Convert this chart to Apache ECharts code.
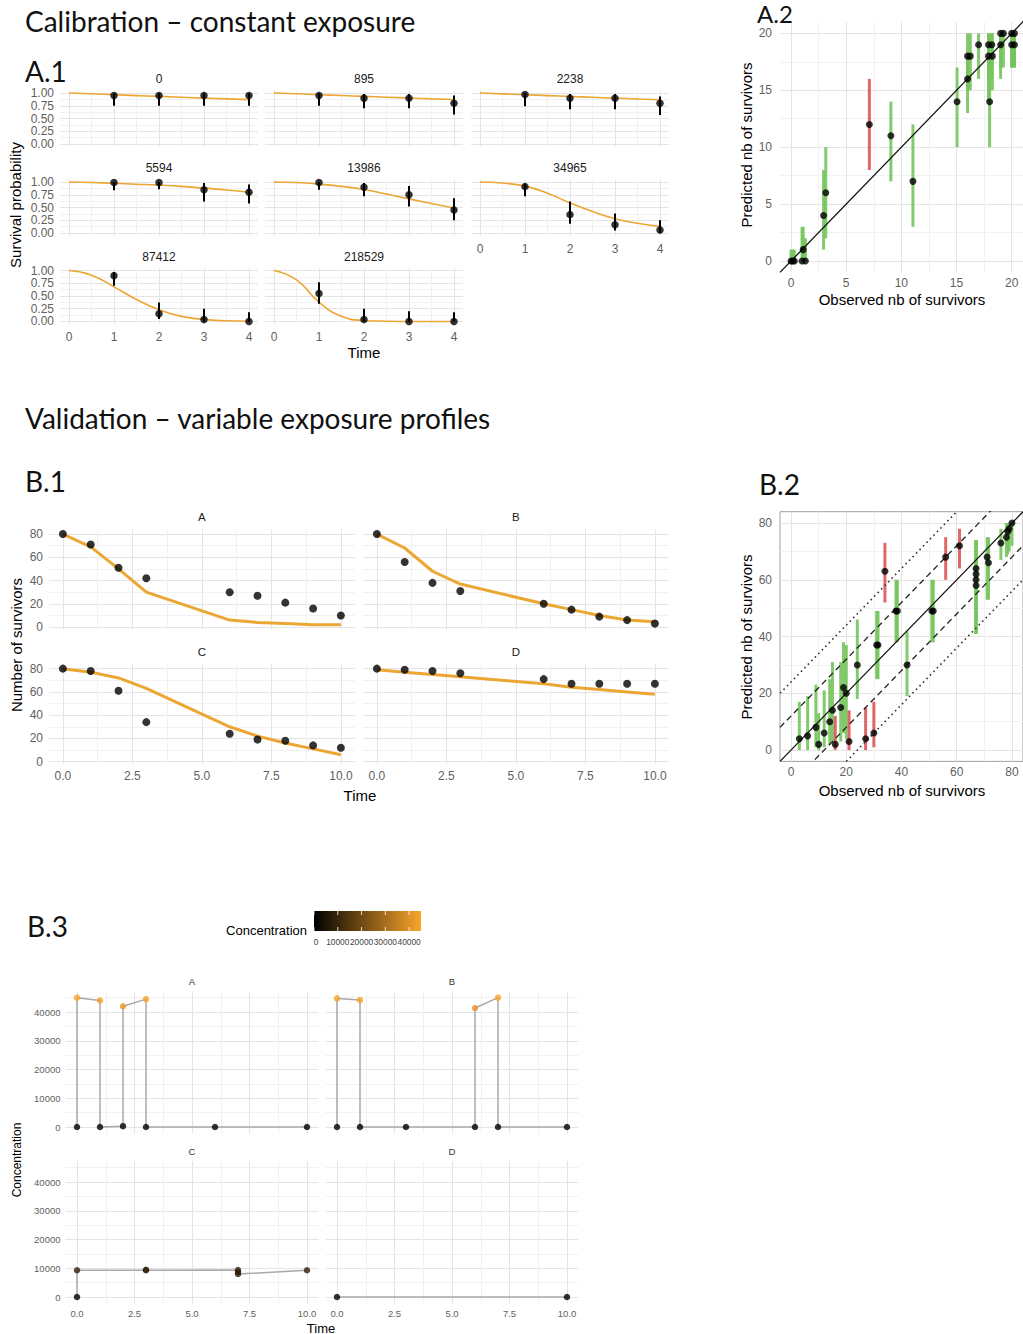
<!DOCTYPE html>
<html><head><meta charset="utf-8">
<script src="https://cdn.jsdelivr.net/npm/echarts@6.0.0/dist/echarts.min.js"></script>
<style>html,body{margin:0;padding:0;background:#fff}#c{width:1023px;height:1334px}</style>
</head><body><div id="c"></div>
<script>
// ================= DATA =================
// ---- A.1 : calibration, survival probability per concentration ----
const a1Concentrations = ['0', '895', '2238', '5594', '13986', '34965', '87412', '218529'];
const a1ObsTimes = [1, 2, 3, 4];
const a1ObsSurvival = [
  [0.95, 0.95, 0.95, 0.95],
  [0.95, 0.90, 0.90, 0.80],
  [0.97, 0.90, 0.90, 0.80],
  [0.99, 0.99, 0.85, 0.80],
  [0.99, 0.90, 0.75, 0.45],
  [0.91, 0.36, 0.16, 0.06],
  [0.90, 0.15, 0.04, 0.00],
  [0.55, 0.04, 0.00, 0.00]
];
const a1ObsLower = [
  [0.75, 0.75, 0.75, 0.75],
  [0.75, 0.70, 0.70, 0.58],
  [0.74, 0.68, 0.68, 0.57],
  [0.84, 0.86, 0.62, 0.58],
  [0.85, 0.72, 0.52, 0.25],
  [0.72, 0.18, 0.05, 0.00],
  [0.70, 0.05, 0.00, 0.00],
  [0.35, 0.00, 0.00, 0.00]
];
const a1ObsUpper = [
  [0.99, 0.99, 0.99, 0.99],
  [0.99, 0.98, 0.98, 0.95],
  [1.00, 0.98, 0.98, 0.93],
  [1.00, 1.00, 0.98, 0.95],
  [1.00, 0.98, 0.92, 0.68],
  [0.97, 0.62, 0.38, 0.25],
  [0.97, 0.37, 0.25, 0.18],
  [0.77, 0.25, 0.20, 0.18]
];
const a1CurveTimes = [0, 0.5, 1, 1.5, 2, 2.5, 3, 3.5, 4];
const a1CurveSurvival = [
  [1.00, 0.985, 0.967, 0.950, 0.934, 0.918, 0.900, 0.885, 0.870],
  [1.00, 0.985, 0.968, 0.951, 0.935, 0.918, 0.902, 0.886, 0.872],
  [1.00, 0.984, 0.967, 0.950, 0.933, 0.916, 0.900, 0.884, 0.868],
  [1.00, 0.990, 0.975, 0.958, 0.940, 0.915, 0.880, 0.845, 0.800],
  [1.00, 0.990, 0.960, 0.915, 0.855, 0.765, 0.670, 0.580, 0.490],
  [1.00, 0.980, 0.920, 0.780, 0.590, 0.420, 0.280, 0.190, 0.125],
  [1.00, 0.910, 0.680, 0.430, 0.230, 0.100, 0.040, 0.015, 0.005],
  [1.00, 0.815, 0.380, 0.100, 0.020, 0.005, 0.000, 0.000, 0.000]
];
const a1TicksX = [0, 1, 2, 3, 4];
const a1TicksY = [0, 0.25, 0.5, 0.75, 1];

// ---- A.2 : observed vs predicted survivors (calibration) ----
const a2Observed  = [0, 0.15, 0.3, 1, 1.3, 1.1, 2.95, 3.15, 7.1, 9.05, 11.05, 15.05, 16, 16, 16.25, 17, 18, 17.9, 17.9, 18.25, 18.2, 19, 19, 19.25, 20, 20, 20.25, 20.25];
const a2Predicted = [0, 0, 0, 0, 0, 1, 4, 6, 12, 11, 7, 14, 16, 18, 18, 19, 14, 18, 19, 18, 19, 19, 20, 20, 19, 20, 20, 19];
const a2Lower     = [0, 0, 0, 0, 0, 0, 1, 2, 8, 7, 3, 10, 13, 15, 15, 16, 10, 14, 16, 15, 16, 16, 17, 17, 17, 17, 17, 17];
const a2Upper     = [1, 1, 1, 3, 2, 3, 8, 10, 16, 14, 12, 17, 18, 20, 20, 20, 20, 20, 20, 20, 20, 20, 20, 20, 20, 20, 20, 20];
const a2Outside   = [0, 0, 0, 0, 0, 0, 0, 0, 1, 0, 0, 0, 0, 0, 0, 0, 0, 0, 0, 0, 0, 0, 0, 0, 0, 0, 0, 0];
const a2Ticks = [0, 5, 10, 15, 20];

// ---- B.1 : number of survivors, variable exposure profiles ----
const b1Profiles = ['A', 'B', 'C', 'D'];
const b1Times = [0, 1, 2, 3, 6, 7, 8, 9, 10];
const b1ObsSurvivors = [
  [80, 71, 51, 42, 30, 27, 21, 16, 10],
  [80, 56, 38, 31, 20, 15, 9, 6, 3],
  [80, 78, 61, 34, 24, 19, 18, 14, 12],
  [80, 79, 78, 76, 71, 67, 67, 67, 67]
];
const b1PredSurvivors = [
  [80, 69, 50, 30, 6, 4, 3, 2, 2],
  [80, 68, 48, 37, 20, 15, 10, 6, 4.5],
  [80, 77, 72, 63, 30, 22, 16, 11, 6],
  [79, 77, 75, 73, 67, 64, 62, 60, 58]
];
const b1TicksX = [0, 2.5, 5, 7.5, 10];
const b1TicksY = [0, 20, 40, 60, 80];

// ---- B.2 : observed vs predicted survivors (validation) ----
const b2Observed  = [3, 6, 9, 10, 12, 14, 15, 16, 18, 19, 20, 21, 24, 27, 30, 31, 31.5, 34, 38, 38.5, 42, 51, 51.5, 56, 61, 67, 67, 67, 67, 71, 71.5, 76, 78, 78.5, 79, 80];
const b2Predicted = [4, 5, 8, 2, 6, 10, 14, 2, 15, 22, 20, 3, 30, 4, 6, 37, 37, 63, 49, 49, 30, 49, 49, 68, 72, 64, 62, 60, 58, 68, 66, 73, 75, 77, 78, 80];
const b2Lower     = [0, 0, 1, 0, 1, 2, 3, 0, 3, 6, 4, 0, 18, 0, 1, 25, 25, 52, 38, 38, 19, 38, 38, 60, 64, 41, 41, 41, 41, 53, 53, 67, 68, 69, 70, 72];
const b2Upper     = [17, 19, 23, 13, 21, 25, 31, 12, 31, 38, 37, 14, 46, 15, 17, 49, 49, 73, 60, 60, 42, 60, 60, 75, 78, 74, 74, 74, 74, 75, 75, 78, 80, 80, 80, 80];
const b2Outside   = [0, 0, 0, 0, 0, 0, 0, 1, 0, 0, 0, 1, 0, 1, 1, 0, 0, 1, 0, 0, 0, 0, 0, 1, 1, 0, 0, 0, 0, 0, 0, 0, 0, 0, 0, 0];
const b2LineOffsets = [0, 12, -12, 24, -24];
const b2Ticks = [0, 20, 40, 60, 80];

// ---- B.3 : exposure profiles (concentration over time) ----
const b3Times = [
  [0, 0, 1, 1, 2, 2, 3, 3, 6, 10],
  [0, 0, 1, 1, 3, 6, 6, 7, 7, 10],
  [0, 0, 3, 3, 7, 7, 7, 10],
  [0, 10]
];
const b3Concentration = [
  [0, 45000, 44000, 0, 300, 42000, 44500, 0, 0, 0],
  [0, 44750, 44200, 0, 0, 0, 41400, 45000, 0, 0],
  [0, 9300, 9300, 9500, 9400, 8700, 8000, 9300],
  [0, 0]
];
const b3TicksX = [0, 2.5, 5, 7.5, 10];
const b3TicksY = [0, 10000, 20000, 30000, 40000];
const b3LegendTicks = [0, 10000, 20000, 30000, 40000];
const b3ColorRange = [0, 45000];

// ================= BUILD =================
const FONT = '"Liberation Sans", Arial, sans-serif';
const TFONT = 'Lato, "Open Sans", sans-serif';
const MAJ = '#e4e4e4', MIN = '#f1f1f1';
const ORANGE = '#eca634', GREEN = '#74c45c', RED = '#dd5656';
const grid = [], xAxis = [], yAxis = [], series = [], graphic = [];

function mids(t) { const s = t[1] - t[0], o = []; for (let k = -1; k < t.length; k++) o.push(+(t[0] + s * (k + 0.5)).toFixed(6)); return o; }
function inside(v, r) { return v.filter(x => x > r[0] + 1e-9 && x < r[1] - 1e-9); }

function panel(p) {
  const gi = grid.length;
  grid.push({ left: p.l, top: p.t, width: p.w, height: p.h, show: !!p.border, borderColor: '#a0a0a0', borderWidth: 1, backgroundColor: 'rgba(0,0,0,0)' });
  const fs = p.fs || 12;
  const major = (ticks, range, show, fmt, margin, pos) => ({
    type: 'value', gridIndex: gi, min: range[0], max: range[1], position: pos,
    axisLine: { show: false }, axisTick: { show: false, customValues: ticks },
    axisLabel: { show: !!show, customValues: ticks, formatter: fmt, color: '#5f5f5f', fontSize: fs, fontFamily: FONT, margin: margin, showMinLabel: true, showMaxLabel: true },
    splitLine: { show: true, lineStyle: { color: MAJ, width: 1 } }
  });
  const minor = (ticks, range, pos) => ({
    type: 'value', gridIndex: gi, min: range[0], max: range[1], position: pos,
    axisLine: { show: false }, axisTick: { show: false, customValues: inside(mids(ticks), range) },
    axisLabel: { show: false }, splitLine: { show: true, lineStyle: { color: MIN, width: 1 } }
  });
  const xi = xAxis.length;
  xAxis.push(major(p.xt, p.xr, p.xl, p.xf, p.xm, 'bottom'));
  xAxis.push(minor(p.xt, p.xr, 'top'));
  const yi = yAxis.length;
  yAxis.push(major(p.yt, p.yr, p.yl, p.yf, p.ym, 'left'));
  yAxis.push(minor(p.yt, p.yr, 'right'));
  return { xAxisIndex: xi, yAxisIndex: yi };
}

function txt(x, y, s, o) {
  o = o || {};
  graphic.push({ type: 'text', x: x, y: y, rotation: o.rot || 0, silent: true, z: 10,
    style: { text: s, fill: o.color || '#000', font: (o.size || 15) + 'px ' + (o.family || FONT),
      align: o.align || 'center', verticalAlign: 'middle', textAlign: o.align || 'center', textVerticalAlign: 'middle' } });
}

function rangeBars(ax, data, width, opacity) {
  series.push(Object.assign({ type: 'custom', clip: false, z: 2, data: data,
    renderItem: function (params, api) {
      const a = api.coord([api.value(0), api.value(1)]);
      const b = api.coord([api.value(0), api.value(2)]);
      return { type: 'line', shape: { x1: a[0], y1: a[1], x2: b[0], y2: b[1] },
        style: { stroke: api.visual('color'), lineWidth: width, opacity: opacity, lineCap: 'butt' } };
    }, itemStyle: { color: '#000' } }, ax));
}

const f2 = v => v.toFixed(2), f1 = v => v.toFixed(1), f0 = v => String(v);

// ---- A.1 ----
const a1Left = [60, 265, 471], a1Top = [90.5, 179.5, 268];
a1Concentrations.forEach((name, i) => {
  const r = Math.floor(i / 3), c = i % 3;
  const showX = r === 2 || (r === 1 && c === 2);
  const ax = panel({ l: a1Left[c], t: a1Top[r], w: 198, h: 56, xr: [-0.2, 4.2], yr: [-0.05, 1.05],
    xt: a1TicksX, yt: a1TicksY, xl: showX, yl: c === 0, xf: f0, yf: f2, xm: 7, ym: 6, fs: 12 });
  series.push(Object.assign({ type: 'line', smooth: 0.5, showSymbol: false, clip: false, z: 1,
    data: a1CurveTimes.map((t, k) => [t, a1CurveSurvival[i][k]]),
    lineStyle: { color: ORANGE, width: 1.6 } }, ax));
  rangeBars(ax, a1ObsTimes.map((t, k) => [t, a1ObsLower[i][k], a1ObsUpper[i][k]]), 2, 1);
  series.push(Object.assign({ type: 'scatter', symbolSize: 7.5, z: 3, itemStyle: { color: '#000' },
    data: a1ObsTimes.map((t, k) => [t, a1ObsSurvival[i][k]]) }, ax));
  txt(a1Left[c] + 99, a1Top[r] - 11.5, name, { size: 12, color: '#1a1a1a' });
});
txt(364, 352, 'Time', { size: 15 });
txt(15, 205, 'Survival probability', { size: 15, rot: Math.PI / 2 });

// ---- A.2 ----
const a2Range = [-1, 21];
{
  const ax = panel({ l: 780, t: 22, w: 242.7, h: 250.4, xr: a2Range, yr: a2Range, xt: a2Ticks, yt: a2Ticks,
    xl: true, yl: true, xf: f0, yf: f0, xm: 5, ym: 8, fs: 12 });
  rangeBars(ax, a2Observed.map((x, k) => ({ value: [x, a2Lower[k], a2Upper[k]], itemStyle: { color: a2Outside[k] ? RED : GREEN } })), 3, 0.9);
  series.push(Object.assign({ type: 'line', showSymbol: false, clip: false, z: 3,
    data: [[a2Range[0], a2Range[0]], [a2Range[1] + 0.6, a2Range[1] + 0.6]], lineStyle: { color: '#111', width: 1.3 } }, ax));
  series.push(Object.assign({ type: 'scatter', symbolSize: 7, z: 4, itemStyle: { color: '#000' },
    data: a2Observed.map((x, k) => [x, a2Predicted[k]]) }, ax));
  txt(902, 299, 'Observed nb of survivors', { size: 15 });
  txt(746, 145, 'Predicted nb of survivors', { size: 15, rot: Math.PI / 2 });
}

// ---- B.1 ----
const b1Left = [49, 363], b1Top = [529.4, 664];
b1Profiles.forEach((name, i) => {
  const r = Math.floor(i / 2), c = i % 2;
  const ax = panel({ l: b1Left[c], t: b1Top[r], w: 305.8, h: 100, xr: [-0.5, 10.5], yr: [-2, 84],
    xt: b1TicksX, yt: b1TicksY, xl: r === 1, yl: c === 0, xf: f1, yf: f0, xm: 6, ym: 6, fs: 12 });
  series.push(Object.assign({ type: 'line', showSymbol: false, clip: false, z: 1,
    data: b1Times.map((t, k) => [t, b1PredSurvivors[i][k]]), lineStyle: { color: ORANGE, width: 3 } }, ax));
  series.push(Object.assign({ type: 'scatter', symbolSize: 8, z: 3, itemStyle: { color: '#000' },
    data: b1Times.map((t, k) => [t, b1ObsSurvivors[i][k]]) }, ax));
  txt(b1Left[c] + 152.9, b1Top[r] - 12.5, name, { size: 11.5, color: '#1a1a1a' });
});
txt(360, 795, 'Time', { size: 15 });
txt(16, 645, 'Number of survivors', { size: 15, rot: Math.PI / 2 });

// ---- B.2 ----
const b2Range = [-4, 84];
{
  const ax = panel({ l: 780, t: 511.7, w: 244.2, h: 249.7, xr: b2Range, yr: b2Range, xt: b2Ticks, yt: b2Ticks,
    xl: true, yl: true, xf: f0, yf: f0, xm: 5, ym: 8, fs: 12, border: true });
  rangeBars(ax, b2Observed.map((x, k) => ({ value: [x, b2Lower[k], b2Upper[k]], itemStyle: { color: b2Outside[k] ? RED : GREEN } })), 3, 0.9);
  b2LineOffsets.forEach(off => {
    const near = Math.abs(off) < 20;
    const type = off === 0 ? 'solid' : (near ? [6, 4] : [1.6, 3.4]);
    series.push(Object.assign({ type: 'line', showSymbol: false, clip: true, z: 3,
      data: [[b2Range[0], b2Range[0] + off], [b2Range[1], b2Range[1] + off]],
      lineStyle: { color: off === 0 ? '#111' : (near ? '#222' : '#333'), width: off === 0 ? 1.3 : (near ? 1.3 : 1.6), type: type } }, ax));
  });
  series.push(Object.assign({ type: 'scatter', symbolSize: 7, z: 4, itemStyle: { color: '#000' },
    data: b2Observed.map((x, k) => [x, b2Predicted[k]]) }, ax));
  txt(902, 790, 'Observed nb of survivors', { size: 15 });
  txt(746, 637, 'Predicted nb of survivors', { size: 15, rot: Math.PI / 2 });
}

// ---- B.3 ----
const b3Left = [65.5, 325.5], b3Top = [991.2, 1161.2];
const b3PointSeries = [];
b1Profiles.forEach((name, i) => {
  const r = Math.floor(i / 2), c = i % 2;
  const ax = panel({ l: b3Left[c], t: b3Top[r], w: 253, h: 142.3, xr: [-0.5, 10.5], yr: [-2250, 47250],
    xt: b3TicksX, yt: b3TicksY, xl: r === 1, yl: c === 0, xf: f1, yf: f0, xm: 5, ym: 5, fs: 9.5 });
  const pts = b3Times[i].map((t, k) => [t, b3Concentration[i][k]]);
  series.push(Object.assign({ type: 'line', showSymbol: false, clip: false, z: 1, data: pts,
    lineStyle: { color: '#a9a9a9', width: 1.5 } }, ax));
  b3PointSeries.push(series.length);
  series.push(Object.assign({ type: 'scatter', symbolSize: 6.5, z: 3, data: pts }, ax));
  txt(b3Left[c] + 126.5, b3Top[r] - 9.5, name, { size: 9.5, color: '#333' });
});
txt(321, 1328, 'Time', { size: 13 });
txt(17, 1160, 'Concentration', { size: 12, rot: Math.PI / 2 });
// colour bar legend
const cbX = 314, cbY = 911, cbW = 107, cbH = 20;
graphic.push({ type: 'rect', shape: { x: cbX, y: cbY, width: cbW, height: cbH }, silent: true,
  style: { fill: new echarts.graphic.LinearGradient(0, 0, 1, 0, [{ offset: 0, color: '#000000' }, { offset: 1, color: '#f9a52b' }]) } });
b3LegendTicks.forEach(v => {
  const x = cbX + (v - b3ColorRange[0]) / (b3ColorRange[1] - b3ColorRange[0]) * cbW;
  graphic.push({ type: 'line', silent: true, shape: { x1: x, y1: cbY, x2: x, y2: cbY + 4 }, style: { stroke: '#fff', lineWidth: 0.8 } });
  graphic.push({ type: 'line', silent: true, shape: { x1: x, y1: cbY + cbH - 4, x2: x, y2: cbY + cbH }, style: { stroke: '#fff', lineWidth: 0.8 } });
  txt(x + (v === 0 ? 2 : 0), 942, String(v), { size: 8.4, color: '#444' });
});
txt(307, 930, 'Concentration', { size: 13, align: 'right' });

// ---- headings ----
txt(25, 21, 'Calibration – constant exposure', { size: 28, family: TFONT, align: 'left', color: '#111' });
txt(25, 71, 'A.1', { size: 28, family: TFONT, align: 'left', color: '#111' });
txt(757, 13, 'A.2', { size: 24, family: TFONT, align: 'left', color: '#111' });
txt(25, 418, 'Validation – variable exposure profiles', { size: 28, family: TFONT, align: 'left', color: '#111' });
txt(25, 481, 'B.1', { size: 28, family: TFONT, align: 'left', color: '#111' });
txt(759, 484, 'B.2', { size: 28, family: TFONT, align: 'left', color: '#111' });
txt(27, 926, 'B.3', { size: 28, family: TFONT, align: 'left', color: '#111' });

const chart = echarts.init(document.getElementById('c'), null, { renderer: 'svg', width: 1023, height: 1334 });
chart.setOption({
  animation: false,
  backgroundColor: '#fff',
  grid: grid, xAxis: xAxis, yAxis: yAxis, series: series, graphic: graphic,
  visualMap: [{ type: 'continuous', show: false, min: b3ColorRange[0], max: b3ColorRange[1], dimension: 1,
    seriesIndex: b3PointSeries, inRange: { color: ['#000000', '#f9a52b'] } }]
});
</script></body></html>
